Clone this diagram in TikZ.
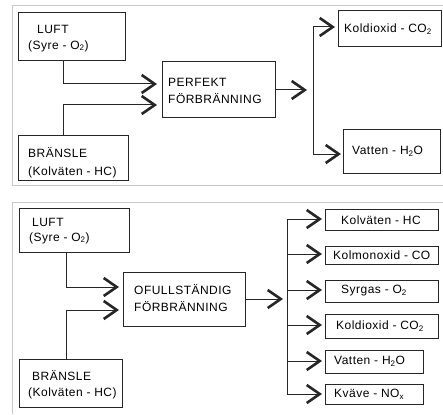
\documentclass[tikz,border=0pt]{standalone}
\usepackage{fontspec}
\usetikzlibrary{arrows.meta}
\newfontfamily\lbfont[LetterSpace=4]{Liberation Sans}
\begin{document}
\begin{tikzpicture}[x=1pt,y=-1pt,
  box/.style={draw=black!85, line width=1pt, inner sep=0pt},
  conn/.style={draw=black!85, line width=1pt},
  chev/.style={-{Straight Barb[length=13pt,width=18pt,line width=2.6pt]}},
  lbl/.style={anchor=west, inner sep=0pt, font=\lbfont\fontsize{12}{14}\selectfont},
  frame/.style={draw=black!22, line width=1pt}]
\useasboundingbox (0,0) rectangle (443,414);
% frames
\draw[frame] (443,6) -- (12,6) -- (12,185) -- (443,185);
\draw[frame] (443,202) -- (12,202) -- (12,414);

% ---------- top panel ----------
\node[box, minimum width=107pt, minimum height=48pt] (luftA) at (71.5,37) {};
\node[box, minimum width=110pt, minimum height=45pt] (branA) at (73,157.5) {};
\node[box, minimum width=113pt, minimum height=56pt] (perf) at (218.5,90) {};
\node[box, minimum width=103pt, minimum height=36pt] (co2A) at (389.5,29) {};
\node[box, minimum width=97pt, minimum height=44pt] (h2oA) at (391.5,151) {};

\node[lbl] (tA1) at (37,29) {LUFT};
\node[lbl] (tA2) at (28,46) {(Syre - O\textsubscript{2})};
\node[lbl] (tA3) at (28,153) {BRÄNSLE};
\node[lbl] (tA4) at (28,172) {(Kolväten - HC)};
\node[lbl] (tA5) at (168,82) {PERFEKT};
\node[lbl] (tA6) at (168,99) {FÖRBRÄNNING};
\node[lbl] (tA7) at (344,29) {Koldioxid - CO\textsubscript{2}};
\node[lbl] (tA8) at (352,151) {Vatten - H\textsubscript{2}O};

\coordinate (pA1) at (157,84);
\coordinate (pA2) at (157,105);
\coordinate (pA3) at (307,90);
\coordinate (jA) at (313,90);
\coordinate (pA4) at (335,27);
\coordinate (pA5) at (341,154);

\draw[conn,chev] ([xshift=-8.5pt]luftA.south) |- (pA1);
\draw[conn,chev] ([xshift=-10pt]branA.north) |- (pA2);
\draw[conn,chev] (perf.east) -- (pA3);
\draw[conn,chev] (jA) |- (pA4);
\draw[conn,chev] (jA) |- (pA5);

% ---------- bottom panel ----------
\node[box, minimum width=110pt, minimum height=44pt] (luftB) at (74,230) {};
\node[box, minimum width=103pt, minimum height=48pt] (branB) at (70.5,383) {};
\node[box, minimum width=122pt, minimum height=54pt] (ofull) at (184,299) {};
\node[box, minimum width=113pt, minimum height=21pt] (hcB) at (381.5,220) {};
\node[box, minimum width=113pt, minimum height=18pt] (coB) at (381.5,255.5) {};
\node[box, minimum width=113pt, minimum height=22pt] (o2B) at (381.5,291) {};
\node[box, minimum width=113pt, minimum height=24pt] (co2B) at (381.5,326) {};
\node[box, minimum width=98pt, minimum height=23pt] (h2oB) at (374,361.5) {};
\node[box, minimum width=98pt, minimum height=20pt] (noxB) at (374,394) {};

\node[lbl] (tB1) at (32,222) {LUFT};
\node[lbl] (tB2) at (29,238) {(Syre - O\textsubscript{2})};
\node[lbl] (tB3) at (32,376) {BRÄNSLE};
\node[lbl] (tB4) at (28,393) {(Kolväten - HC)};
\node[lbl] (tB5) at (134,290) {OFULLSTÄNDIG};
\node[lbl] (tB6) at (134,307) {FÖRBRÄNNING};
\node[lbl] (tB7) at (341,220) {Kolväten - HC};
\node[lbl] (tB8) at (333,255.5) {Kolmonoxid - CO};
\node[lbl] (tB9) at (341,291) {Syrgas - O\textsubscript{2}};
\node[lbl] (tB10) at (336,326) {Koldioxid - CO\textsubscript{2}};
\node[lbl] (tB11) at (334,361) {Vatten - H\textsubscript{2}O};
\node[lbl] (tB12) at (334,394) {Kväve - NO\textsubscript{x}};

\coordinate (pB1) at (119,287);
\coordinate (pB2) at (119,310);
\coordinate (pB3) at (283,299);
\coordinate (jB) at (287,299);
\coordinate (qB1) at (322,219);
\coordinate (qB2) at (322,254);
\coordinate (qB3) at (322,290);
\coordinate (qB4) at (322,325);
\coordinate (qB5) at (322,361);
\coordinate (qB6) at (322,394);

\draw[conn,chev] ([xshift=-8pt]luftB.south) |- (pB1);
\draw[conn,chev] ([xshift=-4.5pt]branB.north) |- (pB2);
\draw[conn,chev] (ofull.east) -- (pB3);
\draw[conn] (jB |- qB1) -- (jB |- qB6);
\foreach \q in {qB1,qB2,qB3,qB4,qB5,qB6}
  \draw[conn,chev] (jB |- \q) -- (\q);
\end{tikzpicture}
\end{document}
